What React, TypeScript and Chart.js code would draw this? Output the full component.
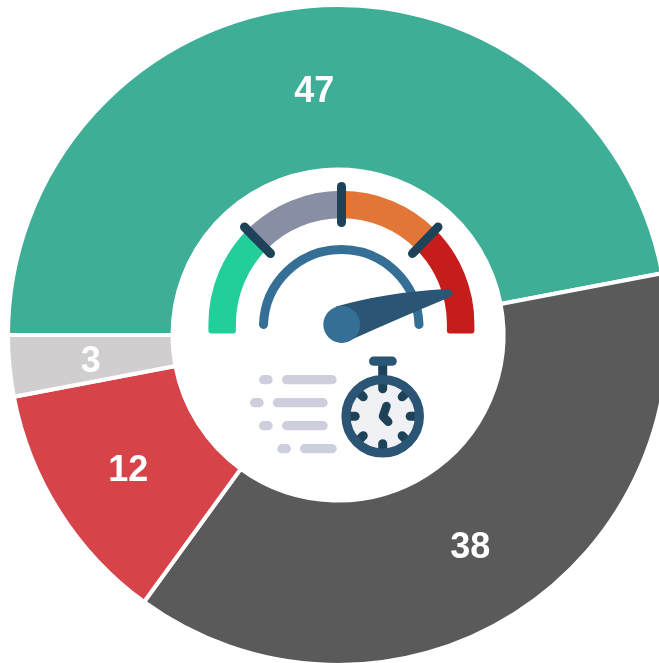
import React, { useEffect, useRef } from "react";
import { Chart, registerables } from "chart.js";

Chart.register(...registerables);

const categories = ["A", "B", "C", "D"];
const seriesValues = [47, 38, 12, 3];
const sliceColors = ["#3fae96", "#5a5a5a", "#d6444a", "#d0cece"];

const valueLabels = {
  id: "valueLabels",
  afterDatasetsDraw(chart: any) {
    const { ctx } = chart;
    const meta = chart.getDatasetMeta(0);
    ctx.save();
    ctx.font = 'bold 36px "Liberation Sans", Arial, sans-serif';
    ctx.fillStyle = "#ffffff";
    ctx.textAlign = "center";
    ctx.textBaseline = "middle";
    meta.data.forEach((arc: any, i: number) => {
      const p = arc.getCenterPoint();
      ctx.fillText(String(seriesValues[i]), p.x - 0.5, p.y + 3.5);
    });
    ctx.restore();
  },
};

const cx = 341.4;
const cy = 323.8;
function polar(r: number, deg: number) {
  const a = (deg * Math.PI) / 180;
  return [cx + r * Math.sin(a), cy - r * Math.cos(a)];
}
function band(r0: number, r1: number, a0: number, a1: number) {
  const [x0, y0] = polar(r1, a0);
  const [x1, y1] = polar(r1, a1);
  const [x2, y2] = polar(r0, a1);
  const [x3, y3] = polar(r0, a0);
  return `M${x0} ${y0}A${r1} ${r1} 0 0 1 ${x1} ${y1}L${x2} ${y2}A${r0} ${r0} 0 0 0 ${x3} ${y3}Z`;
}

const watchTicks = [0, 45, 90, 135, 180, 225, 270, 315];

function Icon() {
  const wx = 382.7;
  const wy = 416.3;
  const dark = "#1e4359";
  const navy = "#2b5574";
  const blue = "#366f96";
  const pale = "#cdd0dc";
  return (
    <svg width={676} height={670} style={{ position: "absolute", left: 0, top: 0 }}>
      <path d={`M208.4 331V${cy}A133 133 0 0 1 ${polar(133, -45).join(" ")}L${polar(105.5, -45).join(" ")}A105.5 105.5 0 0 0 235.9 ${cy}V331Q235.9 333.4 233.5 333.4H210.8Q208.4 333.4 208.4 331Z`} fill="#22cf9a" />
      <path d={band(105.5, 133, -45, 0)} fill="#888ea3" />
      <path d={band(105.5, 133, 0, 45)} fill="#e27636" />
      <path d={`M${polar(133, 45).join(" ")}A133 133 0 0 1 474.4 ${cy}V331Q474.4 333.4 472 333.4H449.3Q446.9 333.4 446.9 331V${cy}A105.5 105.5 0 0 0 ${polar(105.5, 45).join(" ")}Z`} fill="#c71c1c" />
      <g stroke={dark} strokeWidth={9} strokeLinecap="round">
        <line x1={341.5} y1={186.5} x2={341.5} y2={222.5} />
        <line x1={244.5} y1={227} x2={270.5} y2={253.5} />
        <line x1={438} y1={227} x2={412.5} y2={253.5} />
      </g>
      <path d={`M263.5 324.5A77.8 77.8 0 0 1 419 324.5`} fill="none" stroke={blue} strokeWidth={9} strokeLinecap="round" />
      <path d="M336 306.6Q385 292.5 446.5 289Q452.5 289.5 452.5 293Q452.5 295.5 449 297.5Q395 320 354 338.5Q348 342 341 342.8L332 340Z" fill={navy} />
      <circle cx={341.7} cy={324.5} r={18.4} fill={blue} />

      <g fill={pale}>
        {[
          [259, 272.7, 282, 336.7, 379.7],
          [250, 263.7, 272.7, 327.7, 402.7],
          [259, 272.7, 282, 327.7, 425.7],
          [277.3, 291, 300, 336.7, 448.7],
        ].map(([a, b, c, d, y], i) => (
          <g key={i}>
            <rect x={a} y={y - 4.6} width={b - a} height={9.2} rx={4.6} />
            <rect x={c} y={y - 4.6} width={d - c} height={9.2} rx={4.6} />
          </g>
        ))}
      </g>

      <rect x={378.2} y={362} width={9} height={14} fill={dark} />
      <rect x={369} y={356.6} width={27.8} height={9.2} rx={4.6} fill={navy} />
      <circle cx={wx} cy={wy} r={36.7} fill="#f0f1f5" />
      <g stroke={dark} strokeWidth={9} strokeLinecap="round">
        {watchTicks.map((deg) => {
          const a = (deg * Math.PI) / 180;
          const r0 = 33;
          const r1 = 27.5;
          return (
            <line
              key={deg}
              x1={wx + r0 * Math.sin(a)}
              y1={wy - r0 * Math.cos(a)}
              x2={wx + r1 * Math.sin(a)}
              y2={wy - r1 * Math.cos(a)}
            />
          );
        })}
      </g>
      <circle cx={wx} cy={wy} r={36.7} fill="none" stroke={navy} strokeWidth={9.2} />
      <polyline points="386.5,406 382.9,416.3 388.2,421.8" fill="none" stroke={dark} strokeWidth={8.5} strokeLinecap="round" strokeLinejoin="round" />
    </svg>
  );
}

export default function App() {
  const ref = useRef<HTMLCanvasElement>(null);
  useEffect(() => {
    document.documentElement.style.overflow = "hidden";
    document.body.style.margin = "0";
    const chart = new Chart(ref.current as HTMLCanvasElement, {
      type: "doughnut",
      data: {
        labels: categories,
        datasets: [
          {
            data: seriesValues,
            backgroundColor: sliceColors,
            borderColor: "#ffffff",
            borderWidth: 4,
          },
        ],
      },
      options: {
        responsive: false,
        animation: false,
        rotation: -90,
        radius: 330,
        cutout: 167,
        layout: { padding: 0 },
        plugins: { legend: { display: false }, tooltip: { enabled: false } },
      } as any,
      plugins: [valueLabels],
    });
    return () => chart.destroy();
  }, []);
  return (
    <div style={{ position: "absolute", left: 0, top: 0, width: 659, height: 663, overflow: "hidden", background: "#fff" }}>
      <canvas ref={ref} width={676} height={670} style={{ position: "absolute", left: 0, top: 0 }} />
      <Icon />
    </div>
  );
}
